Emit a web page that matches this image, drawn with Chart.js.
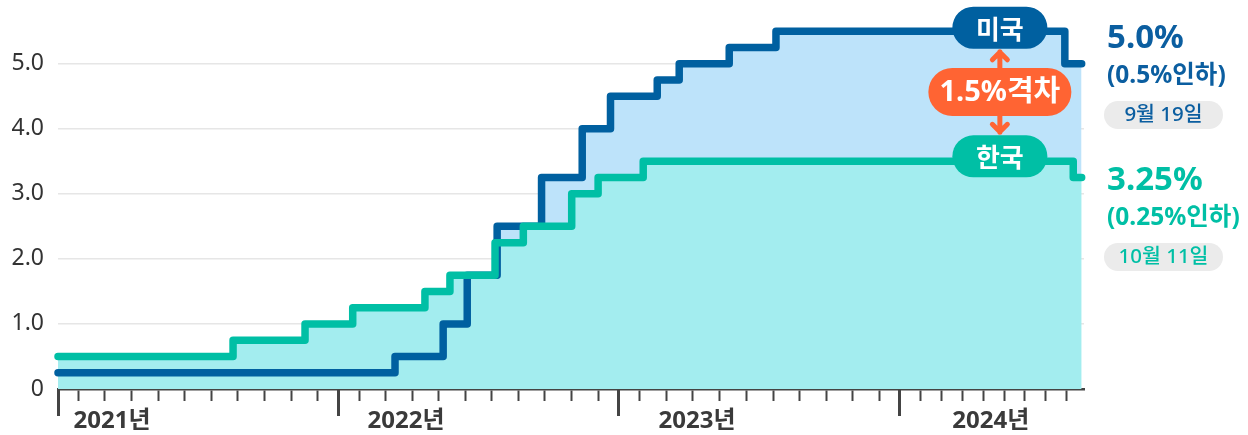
<!DOCTYPE html>
<html>
<head>
<meta charset="utf-8">
<script src="https://cdn.jsdelivr.net/npm/chart.js@4.4.1/dist/chart.umd.min.js"></script>
<style>
  html, body { margin: 0; padding: 0; background: #ffffff; }
  #wrap { width: 1248px; height: 435px; position: relative; }
</style>
</head>
<body>
<div id="wrap"><canvas id="c" width="1248" height="435"></canvas></div>
<script>
// ---- data (x = months since Jan 2021, as placed in the picture) ----
const US_X    = [0, 14.42, 16.48, 17.51, 18.79, 20.69, 22.43, 23.64, 25.64, 26.58, 28.72, 30.72, 43.08, 43.8];
const US_RATE = [0.25, 0.5, 1.0, 1.75, 2.5, 3.25, 4.0, 4.5, 4.75, 5.0, 5.25, 5.5, 5.0, 5.0];
const KR_X    = [0, 7.49, 10.57, 12.61, 15.70, 16.77, 18.70, 19.91, 21.98, 23.11, 25.04, 43.44, 43.8];
const KR_RATE = [0.5, 0.75, 1.0, 1.25, 1.5, 1.75, 2.25, 2.5, 3.0, 3.25, 3.5, 3.25, 3.25];

const Y_TICKS = [0, 1, 2, 3, 4, 5];
const Y_TICK_LABELS = ['0', '1.0', '2.0', '3.0', '4.0', '5.0'];
const YEAR_STARTS = [0, 12, 24, 36];
const YEAR_LABELS = ['2021년', '2022년', '2023년', '2024년'];
const YEAR_LABEL_POS = [2.31, 14.89, 27.34, 39.91];
const MONTH_TICKS = [
  0.89, 2.01, 3.15, 4.28, 5.42, 6.56, 7.69, 8.83, 9.97, 11.11,
  12.88, 14.01, 15.16, 16.30, 17.44, 18.55, 19.69, 20.83, 21.98, 23.12,
  24.89, 26.02, 27.16, 28.31, 29.45, 30.60, 31.74, 32.87, 34.01, 35.16,
  36.90, 37.80, 38.71, 39.59, 40.48, 41.37, 42.27, 43.16
];

const SERIES_NAMES = ['한국', '미국'];
const GAP_LABEL = '1.5%격차';
const BADGE_X = 40.3;
const US_LATEST = ['5.0%', '(0.5%인하)', '9월 19일'];
const KR_LATEST = ['3.25%', '(0.25%인하)', '10월 11일'];

// ---- styles ----
const US_COLOR = '#0060A0';
const KR_COLOR = '#00BFA5';
const US_FILL = '#BDE3FA';
const KR_FILL = '#A3EDEF';
const GAP_COLOR = '#FF6433';
const FONT = '"Noto Sans", "Noto Sans CJK KR", sans-serif';
const KFONT = '"Noto Sans CJK KR", "Noto Sans", sans-serif';

Chart.defaults.font.family = FONT;

const toPoints = (xs, ys) => xs.map((v, i) => ({ x: v, y: ys[i] }));
const stepValueAt = (xs, ys, xv) => { let v = ys[0]; xs.forEach((x, i) => { if (x <= xv) v = ys[i]; }); return v; };

function pill(ctx, cx, cy, w, h, color) {
  const r = h / 2, x = cx - w / 2, y = cy - h / 2;
  ctx.beginPath();
  ctx.moveTo(x + r, y);
  ctx.lineTo(x + w - r, y);
  ctx.arc(x + w - r, cy, r, -Math.PI / 2, Math.PI / 2);
  ctx.lineTo(x + r, y + h);
  ctx.arc(x + r, cy, r, Math.PI / 2, Math.PI * 1.5);
  ctx.closePath();
  ctx.fillStyle = color;
  ctx.fill();
}

const annotations = {
  id: 'annotations',
  afterDraw(chart) {
    const { ctx, chartArea } = chart;
    const xs = chart.scales.x, ys = chart.scales.y;
    const bx = xs.getPixelForValue(BADGE_X);
    const usY = ys.getPixelForValue(stepValueAt(US_X, US_RATE, BADGE_X)) - 3.5;
    const krY = ys.getPixelForValue(stepValueAt(KR_X, KR_RATE, BADGE_X)) - 5;
    const gapY = (usY + krY) / 2;
    ctx.save();

    // arrows
    ctx.strokeStyle = GAP_COLOR;
    ctx.lineWidth = 5;
    ctx.lineCap = 'round';
    ctx.lineJoin = 'round';
    const topEnd = usY + 22, botEnd = krY - 22;
    ctx.beginPath();
    ctx.moveTo(bx, gapY); ctx.lineTo(bx, topEnd + 2);
    ctx.moveTo(bx - 7.5, topEnd + 10); ctx.lineTo(bx, topEnd + 2.5); ctx.lineTo(bx + 7.5, topEnd + 10);
    ctx.moveTo(bx, gapY); ctx.lineTo(bx, botEnd - 2);
    ctx.moveTo(bx - 7.5, botEnd - 10); ctx.lineTo(bx, botEnd - 2.5); ctx.lineTo(bx + 7.5, botEnd - 10);
    ctx.stroke();

    // badges
    ctx.textAlign = 'center';
    ctx.textBaseline = 'middle';
    pill(ctx, bx, usY, 95, 42, US_COLOR);
    pill(ctx, bx, krY, 95, 42, KR_COLOR);
    pill(ctx, bx, gapY, 143, 48, GAP_COLOR);
    ctx.fillStyle = '#ffffff';
    ctx.font = 'bold 26px ' + KFONT;
    ctx.fillText(SERIES_NAMES[1], bx, usY + 1);
    ctx.fillText(SERIES_NAMES[0], bx, krY + 1);
    ctx.font = 'bold 29px ' + FONT;
    ctx.fillText(GAP_LABEL, bx, gapY + 1);

    // right side labels
    const lx = chartArea.right + 24;
    const blocks = [
      { t: US_LATEST, c: '#0B5EA0', base: 48 },
      { t: KR_LATEST, c: '#00BFA5', base: 190 }
    ];
    blocks.forEach(b => {
      ctx.textAlign = 'left';
      ctx.textBaseline = 'alphabetic';
      ctx.fillStyle = b.c;
      ctx.font = 'bold 33px ' + FONT;
      ctx.fillText(b.t[0], lx - 1, b.base);
      ctx.font = 'bold 24.5px ' + FONT;
      ctx.fillText(b.t[1], lx - 1, b.base + 35);
      pill(ctx, lx + 55.5, b.base + 67, 119, 28, '#EBEBEB');
      ctx.fillStyle = b.c;
      ctx.textAlign = 'center';
      ctx.textBaseline = 'middle';
      ctx.font = '500 20.5px ' + FONT;
      ctx.fillText(b.t[2], lx + 55.5, b.base + 67.5);
    });
    ctx.restore();
  }
};

const noPad = s => { s.paddingTop = 0; s.paddingBottom = 0; s.paddingLeft = 0; s.paddingRight = 0; };
const zeroHeight = s => { s.height = 0; noPad(s); };

new Chart(document.getElementById('c'), {
  type: 'line',
  data: {
    datasets: [
      {
        label: SERIES_NAMES[0],
        data: toPoints(KR_X, KR_RATE),
        stepped: 'before',
        borderColor: KR_COLOR,
        borderWidth: 7.5,
        borderCapStyle: 'round',
        borderJoinStyle: 'round',
        backgroundColor: KR_FILL,
        fill: 'origin',
        pointRadius: 0,
        clip: false
      },
      {
        label: SERIES_NAMES[1],
        data: toPoints(US_X, US_RATE),
        stepped: 'before',
        borderColor: US_COLOR,
        borderWidth: 7.5,
        borderCapStyle: 'round',
        borderJoinStyle: 'round',
        backgroundColor: US_FILL,
        fill: { target: 0, above: US_FILL, below: 'rgba(0,0,0,0)' },
        pointRadius: 0,
        clip: false
      }
    ]
  },
  options: {
    responsive: false,
    animation: false,
    events: [],
    layout: { padding: { top: 0, right: 164, bottom: 0, left: 0 } },
    plugins: {
      legend: { display: false },
      tooltip: { enabled: false },
      filler: { drawTime: 'beforeDatasetsDraw' }
    },
    scales: {
      x: {
        type: 'linear', min: 0, max: 43.9, position: 'bottom', weight: 0,
        afterFit: zeroHeight,
        afterBuildTicks: s => { s.ticks = MONTH_TICKS.map(v => ({ value: v })); },
        grid: { display: true, drawOnChartArea: false, drawTicks: true, tickLength: 12, tickWidth: 2, tickColor: '#444444' },
        border: { display: true, color: '#444444', width: 2.5 },
        ticks: { display: false }
      },
      xMajor: {
        type: 'linear', min: 0, max: 43.9, position: 'bottom', weight: 1,
        afterFit: zeroHeight,
        afterBuildTicks: s => { s.ticks = YEAR_STARTS.map(v => ({ value: v })); },
        grid: { display: true, drawOnChartArea: false, drawTicks: true, tickLength: 27, tickWidth: 3, tickColor: '#444444' },
        border: { display: false },
        ticks: { display: false }
      },
      xLabel: {
        type: 'linear', min: 0, max: 43.9, position: 'bottom', weight: 2,
        afterFit: s => { s.height = 46; noPad(s); },
        afterBuildTicks: s => { s.ticks = YEAR_LABEL_POS.map(v => ({ value: v })); },
        grid: { display: false, drawTicks: false, drawOnChartArea: false },
        border: { display: false },
        ticks: {
          autoSkip: false, maxRotation: 0, padding: 18,
          color: '#3a3a3a',
          font: { size: 24, weight: 'bold', family: FONT },
          callback: (v, i) => YEAR_LABELS[i]
        }
      },
      y: {
        type: 'linear', min: 0, max: 5.98, position: 'left',
        afterFit: s => { s.width = 58; noPad(s); },
        afterBuildTicks: s => { s.ticks = Y_TICKS.map(v => ({ value: v })); },
        grid: {
          drawTicks: false,
          lineWidth: 1.5,
          color: c => (c.tick && c.tick.value === 0) ? 'rgba(0,0,0,0)' : '#E6E6E6'
        },
        border: { display: false },
        ticks: {
          padding: 14,
          color: '#333333',
          font: { size: 23, family: FONT },
          callback: (v, i) => Y_TICK_LABELS[i]
        }
      }
    }
  },
  plugins: [annotations]
});
</script>
</body>
</html>
